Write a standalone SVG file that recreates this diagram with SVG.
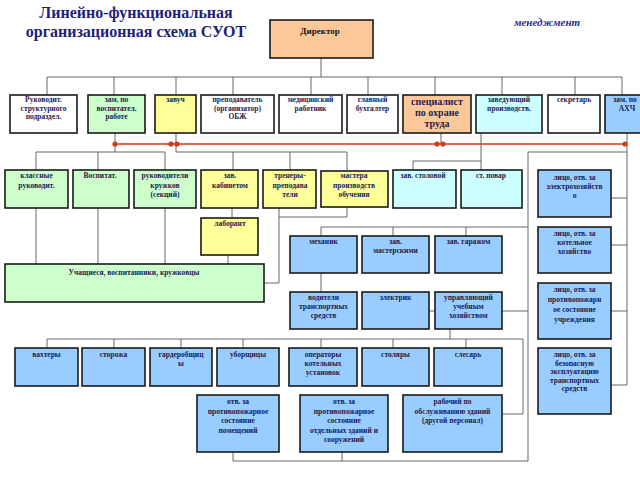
<svg xmlns="http://www.w3.org/2000/svg" width="640" height="480" viewBox="0 0 640 480">
<style>
.b{stroke:#1a1a1a;stroke-width:1.6}
.w{fill:#ffffff}.g{fill:#ccffcc}.y{fill:#ffff99}.p{fill:#fcc898}.c{fill:#ccffff}.u{fill:#99ccff}
text{font-family:"Liberation Serif","Times New Roman",serif;font-weight:bold;fill:#1c1c52;text-anchor:middle;font-size:7.5px}
.t{font-size:16px;fill:#1f1f7a}
.m{font-size:11px;font-style:italic;fill:#2a2a90}
.big{font-size:10px}
.d{font-size:9px;fill:#111}
.ln{fill:none;stroke:#666;stroke-width:1}
.rd{fill:none;stroke:#d23a1a;stroke-width:1.6}
.dot{fill:#d23a1a}
</style>
<rect width="640" height="480" fill="#fff"/>
<text class="t" x="136" y="18">Линейно-функциональная</text>
<text class="t" x="136" y="37">организационная схема СУОТ</text>
<text class="m" x="547" y="26">менеджмент</text>

<g id="connectors">
<path class="ln" d="M321,58V77M47,77H622M47,77V95M114,77V95M176,77V95M233,77V95M311,77V95M368,77V95M435,77V95M502,77V95M575,77V95M622,77V95"/>
<path class="ln" d="M115,133V152M36,152H165M36,152V170M98,152V170M165,152V170"/>
<path class="ln" d="M176,133V152H347M233,152V170M290,152V170M347,152V170"/>
<path class="ln" d="M441,133V144"/>
<path class="ln" d="M481,133V161H413M413,161V170M481,161V170"/>
<path class="ln" d="M627,133V385M528,152H627M528,152V461M611,198H627M611,245H627M611,311H627M611,385H627"/>
<path class="ln" d="M36,208V264M98,208V264M165,208V264M232,208V218M228,255V264M279,208V283H264M347,207V217H279"/>
<path class="ln" d="M321,227H528M321,227V236M393,227V236M466,227V236M321,273V292M429,311H435M502,311H528"/>
<path class="ln" d="M450,329V339M47,339H523M47,339V348M114,339V348M181,339V348M243,339V348M321,339V348M393,339V348M466,339V348M523,339V414H502"/>
<path class="ln" d="M233,452V461H528M342,452V461"/>
<path class="rd" d="M115,144H627"/>
<circle class="dot" cx="115" cy="144" r="2.6"/>
<circle class="dot" cx="171" cy="144" r="2.6"/>
<circle class="dot" cx="177" cy="144" r="2.6"/>
<circle class="dot" cx="437" cy="144" r="2.6"/>
<circle class="dot" cx="443" cy="144" r="2.6"/>
<circle class="dot" cx="625" cy="144" r="2.6"/>
</g>

<g id="director"><rect class="b p" x="270" y="20" width="103" height="38"/><text class="d" x="320" y="34">Директор</text></g>

<g id="n1"><rect class="b w" x="10" y="95" width="67" height="38"/><text x="43.5" y="102">Руководит.</text><text x="43.5" y="110.5">структурного</text><text x="43.5" y="119">подраздел.</text></g>
<g id="n2"><rect class="b g" x="88" y="95" width="57" height="38"/><text x="116.5" y="102">зам. по</text><text x="116.5" y="110.5">воспитател.</text><text x="116.5" y="119">работе</text></g>
<g id="n3"><rect class="b y" x="155" y="95" width="41" height="38"/><text x="175.5" y="102">завуч</text></g>
<g id="n4"><rect class="b w" x="201" y="95" width="73" height="38"/><text x="237.5" y="102">преподаватель</text><text x="237.5" y="110.5">(организатор)</text><text x="237.5" y="119">ОБЖ</text></g>
<g id="n5"><rect class="b w" x="279" y="95" width="63" height="38"/><text x="310.5" y="102">медицинский</text><text x="310.5" y="110.5">работник</text></g>
<g id="n6"><rect class="b w" x="347" y="95" width="51" height="38"/><text x="372.5" y="102">главный</text><text x="372.5" y="110.5">бухгалтер</text></g>
<g id="n7"><rect class="b p" x="403" y="95" width="68" height="38"/><text class="big" x="437" y="105">специалист</text><text class="big" x="437" y="116">по охране</text><text class="big" x="437" y="127">труда</text></g>
<g id="n8"><rect class="b c" x="476" y="95" width="66" height="38"/><text x="509" y="102">заведующий</text><text x="509" y="110.5">производств.</text></g>
<g id="n9"><rect class="b w" x="548" y="95" width="52" height="38"/><text x="574" y="102">секретарь</text></g>
<g id="n10"><rect class="b u" x="605" y="95" width="52" height="38"/><text x="625" y="102">зам. по</text><text x="627" y="110.5">АХЧ</text></g>

<g id="r1"><rect class="b g" x="5" y="170" width="63" height="38"/><text x="36.5" y="178">классные</text><text x="36.5" y="187.5">руководит.</text></g>
<g id="r2"><rect class="b g" x="73" y="170" width="56" height="38"/><text x="100" y="178">Воспитат.</text></g>
<g id="r3"><rect class="b g" x="134" y="170" width="62" height="38"/><text x="165" y="178">руководители</text><text x="165" y="187.5">кружков</text><text x="165" y="197">(секций)</text></g>
<g id="r4"><rect class="b y" x="201" y="170" width="57" height="38"/><text x="230" y="178">зав.</text><text x="230" y="187.5">кабинетом</text></g>
<g id="r5"><rect class="b y" x="263" y="170" width="53" height="38"/><text x="290" y="178">тренеры-</text><text x="290" y="187.5">преподава</text><text x="290" y="197">тели</text></g>
<g id="r6"><rect class="b y" x="321" y="171" width="67" height="36"/><text x="354" y="178">мастера</text><text x="354" y="187.5">производств</text><text x="354" y="197">обучения</text></g>
<g id="r7"><rect class="b c" x="393" y="170" width="63" height="38"/><text x="423" y="178">зав. столовой</text></g>
<g id="r8"><rect class="b c" x="461" y="170" width="61" height="38"/><text x="491" y="178">ст. повар</text></g>
<g id="r9"><rect class="b u" x="538" y="170" width="73" height="47"/><text x="574.5" y="180">лицо, отв. за</text><text x="574.5" y="189">электрохозяйств</text><text x="574.5" y="198">о</text></g>

<g id="lab"><rect class="b y" x="201" y="218" width="57" height="37"/><text x="230" y="226">лаборант</text></g>
<g id="students"><rect class="b g" x="5" y="264" width="259" height="38"/><text x="134" y="275">Учащиеся, воспитанники, кружковцы</text></g>

<g id="m1"><rect class="b u" x="290" y="236" width="67" height="37"/><text x="323.5" y="244">механик</text></g>
<g id="m2"><rect class="b u" x="362" y="236" width="67" height="37"/><text x="395.5" y="244">зав.</text><text x="395.5" y="253">мастерскими</text></g>
<g id="m3"><rect class="b u" x="435" y="236" width="67" height="37"/><text x="468.5" y="244">зав. гаражом</text></g>
<g id="m4"><rect class="b u" x="538" y="227" width="73" height="46"/><text x="574.5" y="236">лицо, отв. за</text><text x="574.5" y="245">котельное</text><text x="574.5" y="254">хозяйство</text></g>

<g id="v1"><rect class="b u" x="290" y="292" width="67" height="37"/><text x="323.5" y="300">водители</text><text x="323.5" y="309">транспортных</text><text x="323.5" y="318">средств</text></g>
<g id="v2"><rect class="b u" x="362" y="292" width="67" height="37"/><text x="395.5" y="300">электрик</text></g>
<g id="v3"><rect class="b u" x="435" y="292" width="67" height="37"/><text x="468.5" y="300">управляющий</text><text x="468.5" y="309">учебным</text><text x="468.5" y="318">хозяйством</text></g>
<g id="v4"><rect class="b u" x="538" y="283" width="73" height="56"/><text x="574.5" y="292">лицо, отв. за</text><text x="574.5" y="302">противопожарн</text><text x="574.5" y="312">ое состояние</text><text x="574.5" y="322">учреждения</text></g>

<g id="s1"><rect class="b u" x="15" y="348" width="63" height="38"/><text x="46.5" y="357">вахтеры</text></g>
<g id="s2"><rect class="b u" x="82" y="348" width="63" height="38"/><text x="113.5" y="357">сторожа</text></g>
<g id="s3"><rect class="b u" x="150" y="348" width="62" height="38"/><text x="181" y="357">гардеробщиц</text><text x="181" y="366">ы</text></g>
<g id="s4"><rect class="b u" x="217" y="348" width="62" height="38"/><text x="248" y="357">уборщицы</text></g>
<g id="s5"><rect class="b u" x="289" y="348" width="68" height="38"/><text x="323" y="357">операторы</text><text x="323" y="366">котельных</text><text x="323" y="375">установок</text></g>
<g id="s6"><rect class="b u" x="362" y="348" width="67" height="38"/><text x="395.5" y="357">столяры</text></g>
<g id="s7"><rect class="b u" x="434" y="348" width="68" height="38"/><text x="468" y="357">слесарь</text></g>
<g id="s8"><rect class="b u" x="538" y="348" width="73" height="66"/><text x="574.5" y="357">лицо, отв. за</text><text x="574.5" y="365.5">безопасную</text><text x="574.5" y="374">эксплуатацию</text><text x="574.5" y="382.5">транспортных</text><text x="574.5" y="391">средств</text></g>

<g id="b1"><rect class="b u" x="197" y="395" width="82" height="57"/><text x="238" y="404">отв. за</text><text x="238" y="413.5">противопожарное</text><text x="238" y="423">состояние</text><text x="238" y="432.5">помещений</text></g>
<g id="b2"><rect class="b u" x="300" y="395" width="88" height="57"/><text x="344" y="404">отв. за</text><text x="344" y="413.5">противопожарное</text><text x="344" y="423">состояние</text><text x="344" y="432.5">отдельных зданий и</text><text x="344" y="442">сооружений</text></g>
<g id="b3"><rect class="b u" x="403" y="395" width="99" height="57"/><text x="452.5" y="404">рабочий по</text><text x="452.5" y="413.5">обслуживанию зданий</text><text x="452.5" y="423">(другой персонал)</text></g>
</svg>
